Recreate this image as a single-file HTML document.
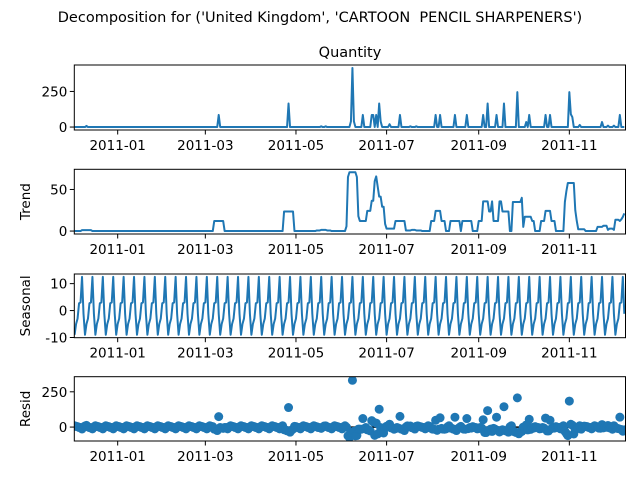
<!DOCTYPE html>
<html><head><meta charset="utf-8"><style>
body{margin:0;background:#fff;}
svg{font-family:"DejaVu Sans","Liberation Sans",sans-serif;}
text{white-space:pre;}
</style></head><body>
<svg id="chart" width="640" height="480" viewBox="0 0 640 480" xmlns="http://www.w3.org/2000/svg">
<text x="320" y="22" text-anchor="middle" font-size="14.5" xml:space="preserve">Decomposition for ('United Kingdom', 'CARTOON  PENCIL SHARPENERS')</text>
<text x="350" y="57" text-anchor="middle" font-size="14.5">Quantity</text>
</svg>
<script>
// daily series starts 2010-12-03 (day -29 relative to 2011-01-01)
const startDay = -29;
const nDays = 371;
// observed spikes: day offset from 2011-01-01 and quantity
const spikeDays = [-21, 68, 115, 137, 140, 157, 158, 159, 165, 171, 172, 174, 176, 177, 183, 190, 197, 201, 214, 217, 227, 235, 246, 249, 255, 260, 269, 275, 277, 288, 291, 304, 305, 306, 311, 326, 330, 334, 338];
const spikeVals = [8, 85, 165, 5, 5, 40, 415, 40, 85, 85, 85, 85, 165, 40, 20, 85, 5, 5, 85, 85, 85, 85, 85, 165, 85, 165, 245, 35, 85, 85, 85, 245, 90, 70, 15, 35, 10, 10, 85];
// weekly seasonal pattern (index = day position mod 7)
const seasonalPattern = [-9, -5, -3, 2.7, 3, 12.5, -1.2];
const xTickLabels = ["2011-01", "2011-03", "2011-05", "2011-07", "2011-09", "2011-11"];
const xTickDays = [0, 59, 120, 181, 243, 304];

const NS = "http://www.w3.org/2000/svg";
const svg = document.getElementById('chart');
const X0 = 74.3, X1 = 625.5, D0 = -29.2, D1 = 341.8;
const xs = d => X0 + (d - D0) / (D1 - D0) * (X1 - X0);
const blue = '#1f77b4';

const days = [], observed = [];
for (let i = 0; i < nDays; i++) { days.push(startDay + i); observed.push(0); }
spikeDays.forEach((d, k) => { const i = d - startDay; if (i >= 0 && i < nDays) observed[i] += spikeVals[k]; });
const trend = observed.map((v, i) => {
  let s = 0, c = 0;
  for (let j = i - 3; j <= i + 3; j++) if (j >= 0 && j < nDays) { s += observed[j]; c++; }
  return s / c;
});
const seasonal = days.map((d, i) => seasonalPattern[i % 7]);
const resid = observed.map((v, i) => v - trend[i] - seasonal[i]);

function mk(tag, attrs, parent) {
  const e = document.createElementNS(NS, tag);
  for (const k in attrs) e.setAttribute(k, attrs[k]);
  (parent || svg).appendChild(e);
  return e;
}

function panel(name, top, bottom, vals, ymin, ymax, yticks, ylabel, kind) {
  const g = mk('g', {});
  
  
  const ys = v => bottom - (v - ymin) / (ymax - ymin) * (bottom - top);
  const clipId = 'clip-' + name;
  const cp = mk('clipPath', { id: clipId }, g);
  mk('rect', { x: X0, y: top, width: X1 - X0, height: bottom - top }, cp);
  const plot = mk('g', { 'clip-path': 'url(#' + clipId + ')' }, g);
  if (kind === 'line') {
    const d = vals.map((v, i) => (i ? 'L' : 'M') + xs(days[i]).toFixed(2) + ',' + ys(v).toFixed(2)).join('');
    const p = mk('path', { d: d, fill: 'none', stroke: blue, 'stroke-width': 2, 'stroke-linejoin': 'round' }, plot);
    
    
  } else {
    mk('line', { x1: X0, x2: X1, y1: ys(0), y2: ys(0), stroke: '#000', 'stroke-width': 1.5 }, plot);
    vals.forEach((v, i) => {
      const c = mk('circle', { cx: xs(days[i]).toFixed(2), cy: ys(v).toFixed(2), r: 4.5, fill: blue }, plot);
      
      
    });
  }
  const fr = mk('rect', { x: X0, y: top, width: X1 - X0, height: bottom - top, fill: 'none', stroke: '#000', 'stroke-width': 1 }, g);
  
  
  yticks.forEach(t => {
    const y = ys(t);
    mk('line', { x1: X0 - 4.5, x2: X0, y1: y, y2: y, stroke: '#000', 'stroke-width': 1 }, g);
    const tx = mk('text', { x: X0 - 7, y: y + 5, 'text-anchor': 'end', 'font-size': 13.5 }, g);
    tx.textContent = t;
    
    
  });
  xTickDays.forEach((d, k) => {
    const x = xs(d);
    mk('line', { x1: x, x2: x, y1: bottom, y2: bottom + 4.5, stroke: '#000', 'stroke-width': 1 }, g);
    const tx = mk('text', { x: x, y: bottom + 20, 'text-anchor': 'middle', 'font-size': 13.5 }, g);
    tx.textContent = xTickLabels[k];
    
    
  });
  if (ylabel) {
    const cy = (top + bottom) / 2;
    const yl = mk('text', { x: 0, y: 0, 'text-anchor': 'middle', 'font-size': 13.5, transform: 'translate(30,' + cy + ') rotate(-90)' }, g);
    yl.textContent = ylabel;
    
    
  }
}

function lims(vals) {
  const mn = Math.min(...vals), mx = Math.max(...vals), m = (mx - mn) * 0.05;
  return [mn - m, mx + m];
}
let l = lims(observed); panel('observed', 65, 130, observed, l[0], l[1], [0, 250], '', 'line');
l = lims(trend); panel('trend', 169.3, 234, trend, l[0], l[1], [0, 50], 'Trend', 'line');
l = lims(seasonal); panel('seasonal', 274, 337.7, seasonal, l[0], l[1], [-10, 0, 10], 'Seasonal', 'line');
l = lims(resid); panel('resid', 376.7, 441, resid, l[0] - 5, l[1] + 5, [0, 250], 'Resid', 'dots');
</script>
</body></html>
